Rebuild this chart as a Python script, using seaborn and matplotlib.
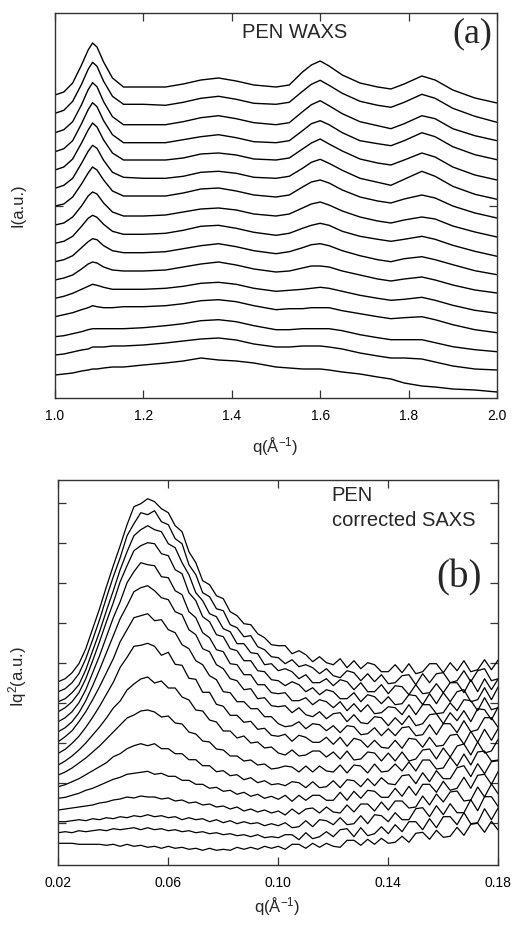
import matplotlib
matplotlib.use("Agg")
import matplotlib.pyplot as plt
import numpy as np
import pandas as pd
import seaborn as sns

# ---------------- (a) PEN WAXS ----------------
waxs_q = [1.00, 1.02, 1.04, 1.06, 1.075, 1.085, 1.095, 1.11, 1.13, 1.155, 1.20, 1.25,
          1.29, 1.33, 1.37, 1.41, 1.45, 1.50, 1.53, 1.56, 1.58, 1.60, 1.62, 1.65,
          1.69, 1.73, 1.76, 1.79, 1.83, 1.86, 1.90, 1.95, 2.00]
waxs_offset = [303.3, 285.0, 265.6, 246.6, 228.3, 210.0, 192.3, 173.3,
               155.0, 136.6, 118.3, 100.0, 81.6, 61.6, 43.3, 23.3]
waxs_1 = [0,3,12,30,45,52,48,33,17,8,8,8,11,15,17,14,10,8,10,23,30,34,29,20,12,8,6,11,19,15,5,-3,-8]
waxs_2 = [0,3,12,29,44,51,47,32,17,9,9,8,11,15,17,14,10,9,11,22,29,33,28,20,12,8,6,11,19,15,5,-3,-9]
waxs_3 = [0,3,11,28,43,50,46,31,16,8,8,8,11,15,17,14,10,8,10,21,28,32,27,19,11,7,4,9,17,14,4,-3,-8]
waxs_4 = [0,3,11,28,42,49,45,31,17,9,9,9,12,15,17,14,10,9,11,21,28,31,27,19,11,8,6,11,19,15,5,-3,-8]
waxs_5 = [0,3,11,27,40,47,43,30,17,10,10,10,12,16,17,15,11,10,12,21,27,31,26,19,11,7,5,10,17,13,3,-5,-10]
waxs_6 = [0,3,10,25,37,43,40,28,16,11,10,10,12,16,17,15,11,10,12,20,26,29,25,18,10,6,3,9,17,12,2,-6,-11]
waxs_7 = [0,2,9,22,33,39,36,26,15,10,10,10,13,17,18,15,11,9,11,19,24,26,23,16,9,5,3,7,11,8,0,-7,-12]
waxs_8 = [0,2,8,19,29,33,31,22,13,9,9,10,13,16,17,15,11,9,11,17,21,23,20,14,8,4,2,5,8,6,-1,-7,-12]
waxs_9 = [0,2,7,17,25,28,26,19,12,9,9,10,13,17,18,15,11,8,10,15,18,20,18,12,7,4,2,4,7,4,-2,-8,-13]
waxs_10 = [0,2,6,14,20,23,22,16,11,9,9,10,13,16,18,15,11,8,10,14,17,18,16,11,6,2,0,3,5,2,-3,-9,-13]
waxs_11 = [0,2,5,11,16,18,17,13,10,9,9,10,13,16,18,15,11,8,9,12,14,14,13,9,5,1,-1,1,3,0,-5,-10,-13]
waxs_12 = [0,2,5,9,12,14,13,11,9,9,9,10,12,15,16,14,10,7,8,9,10,11,10,7,3,0,-2,-1,1,-2,-7,-12,-15]
waxs_13 = [0,2,4,7,9,11,10,9,9,10,10,11,13,16,17,15,11,7,8,8,9,9,9,6,3,0,-2,-1,0,-3,-8,-13,-16]
waxs_14 = [0,1,3,5,7,8,8,8,8,8,9,11,13,16,17,15,11,7,7,8,8,8,8,6,2,-1,-3,-3,-3,-6,-10,-13,-15]
waxs_15 = [0,1,3,5,6,8,8,8,9,9,10,12,14,16,17,15,11,8,8,9,9,9,8,6,2,-1,-3,-3,-4,-7,-11,-14,-15]
waxs_16 = [0,1,2,4,5,6,6,7,8,8,10,12,14,17,15,14,12,8,7,6,6,6,5,3,1,-2,-4,-8,-11,-12,-14,-15,-17]
waxs_curves = [waxs_1, waxs_2, waxs_3, waxs_4, waxs_5, waxs_6, waxs_7, waxs_8,
               waxs_9, waxs_10, waxs_11, waxs_12, waxs_13, waxs_14, waxs_15, waxs_16]

# ---------------- (b) PEN corrected SAXS ----------------
saxs_q = [0.0200,0.0225,0.0250,0.0275,0.0300,0.0325,0.0350,0.0375,0.0400,0.0425,0.0450,
          0.0475,0.0500,0.0525,0.0550,0.0575,0.0600,0.0625,0.0650,0.0675,0.0700,0.0725,
          0.0750,0.0775,0.0800,0.0825,0.0850,0.0875,0.0900,0.0925,0.0950,0.0975,0.1000,
          0.1025,0.1050,0.1075,0.1100,0.1125,0.1150,0.1175,0.1200,0.1225,0.1250,0.1275,
          0.1300,0.1325,0.1350,0.1375,0.1400,0.1425,0.1450,0.1475,0.1500,0.1525,0.1550,
          0.1575,0.1600,0.1625,0.1650,0.1675,0.1700,0.1725,0.1750,0.1775,0.1800]
saxs_offset = [183.3, 173.3, 163.3, 153.3, 143.3, 133.3, 123.3, 111.7,
               100.0, 90.0, 78.3, 66.7, 55.0, 43.3, 32.3, 21.7]
saxs_1 = [0,3,9,18,33,53,73,95,116,136,157,175,178,183,180,173,169,156,150,130,119,101,97,86,83,70,66,58,57,48,44,37,36,
          36,28,31,27,20,25,19,17,23,14,21,13,19,17,10,10,17,9,18,8,10,18,18,9,19,11,21,10,12,22,12,22]
saxs_2 = [0,3,9,18,33,52,72,94,115,134,156,168,179,177,181,170,167,153,148,127,117,99,95,83,81,67,64,55,56,45,42,35,34,
          28,32,25,27,24,18,23,16,14,21,19,11,18,10,17,8,9,16,17,7,18,9,18,19,9,11,21,10,21,23,11,13]
saxs_3 = [0,3,9,17,32,51,70,91,111,132,150,166,172,176,172,170,158,154,139,127,109,101,88,85,73,70,58,58,49,48,37,38,31,
          33,30,23,27,19,19,23,16,22,20,12,19,10,10,17,8,16,15,7,17,8,9,18,9,19,19,9,22,10,23,12,23]
saxs_4 = [0,4,10,19,33,51,70,90,109,130,146,161,166,169,168,158,156,142,138,119,111,95,90,77,75,63,61,51,51,41,40,32,31,
          26,30,27,20,24,17,22,20,13,13,19,10,17,15,8,15,7,8,17,16,7,18,8,19,10,20,22,10,12,24,12,25]
saxs_5 = [0,4,10,19,32,49,66,85,104,120,139,150,159,157,156,145,144,131,127,110,104,89,84,72,70,58,57,47,47,37,37,29,28,
          29,21,21,24,17,22,20,14,20,11,18,10,17,8,9,15,14,7,17,7,17,17,8,9,19,11,22,21,11,24,12,14]
saxs_6 = [0,4,10,19,31,46,62,79,96,113,126,140,144,146,141,134,132,120,117,102,97,83,80,67,63,53,51,42,43,33,34,26,25,
          26,19,24,17,15,20,13,18,19,10,17,9,8,15,14,6,14,7,16,6,8,17,18,8,19,11,21,10,23,22,12,25]
saxs_7 = [0,5,11,20,30,42,55,69,83,100,112,124,126,128,121,122,112,109,97,93,81,77,66,62,50,49,40,40,33,33,25,25,18,
          15,16,20,13,18,17,11,16,9,16,15,7,8,14,6,13,6,14,15,6,7,17,7,18,18,9,21,10,12,24,24,14]
saxs_8 = [0,4,10,17,26,36,47,59,71,86,96,107,108,110,107,98,101,89,88,75,74,61,61,49,47,38,38,31,32,24,25,18,17,
          19,12,18,16,11,11,16,9,16,7,15,13,6,13,6,5,13,5,15,14,6,16,7,8,18,19,9,22,11,24,13,25]
saxs_9 = [0,4,9,15,22,30,38,47,57,64,75,81,86,88,82,84,77,77,68,65,55,54,45,43,34,34,27,29,22,23,17,18,12,
          10,15,9,10,14,14,8,13,6,14,5,6,13,12,4,12,4,13,4,6,15,16,6,17,8,19,21,10,23,12,14,26]
saxs_10 = [0,3,7,12,17,23,29,36,43,50,57,60,64,65,63,58,59,52,51,43,41,34,33,26,25,19,19,14,15,10,11,6,7,
           9,8,3,9,3,9,4,3,10,2,10,9,2,11,3,4,11,4,13,4,15,15,6,7,18,9,21,10,23,24,14,15]
saxs_11 = [0,2,5,8,12,16,20,24,30,33,38,41,43,41,43,38,38,33,33,27,27,21,21,15,16,11,12,7,9,4,6,2,3,
           1,5,4,-1,5,-1,0,6,-1,7,6,0,8,1,9,3,2,11,12,3,14,5,16,8,8,19,21,10,23,13,25,26]
saxs_12 = [0,1,3,5,8,10,13,16,19,21,24,25,26,27,24,25,22,22,18,18,14,14,10,11,7,8,4,6,2,4,0,2,-1,
           3,-3,3,-2,3,3,-2,-2,6,-2,7,0,8,7,1,1,10,2,12,3,14,14,6,17,8,10,21,10,23,24,14,27]
saxs_13 = [0,1,2,3,4,5,7,8,10,11,13,12,14,13,13,11,12,9,10,7,8,5,6,3,4,1,3,-1,1,-2,0,-3,-1,
           -5,1,-4,1,2,-3,3,-2,-3,5,-2,6,6,-1,8,0,9,9,2,3,14,5,16,8,18,19,9,10,23,13,26,16]
saxs_14 = [0,0,1,2,1,3,2,4,3,5,4,6,5,7,5,6,4,5,2,4,2,3,0,2,-1,1,-2,0,-2,-1,-4,-2,-4,
           -1,-6,-5,1,-5,2,1,-3,4,-3,-2,6,-2,7,6,0,9,2,2,13,14,5,16,7,18,9,9,22,11,25,25,15]
saxs_15 = [0,1,0,2,1,2,3,2,4,3,4,5,3,5,3,4,2,3,1,2,0,1,-1,0,-2,-1,-3,-2,-4,-2,-5,-4,-5,
           -2,-2,-7,0,-6,-4,1,-4,3,4,-4,5,-3,-1,6,-1,8,1,11,11,3,14,5,16,16,8,20,9,10,24,13,25]
saxs_16 = [0,0,0,-1,-1,-1,-1,-2,-1,-3,-1,-3,-2,-4,-3,-5,-3,-5,-4,-6,-5,-7,-5,-7,-6,-7,-4,-6,-4,-6,-3,-5,-3,
           -6,-1,-1,-5,0,-4,0,-3,-4,3,3,-2,4,-1,5,0,1,7,1,10,11,4,13,6,7,16,8,19,20,11,22,13]
saxs_curves = [saxs_1, saxs_2, saxs_3, saxs_4, saxs_5, saxs_6, saxs_7, saxs_8,
               saxs_9, saxs_10, saxs_11, saxs_12, saxs_13, saxs_14, saxs_15, saxs_16]

waxs_xticks = [1.0, 1.2, 1.4, 1.6, 1.8, 2.0]
waxs_xticklabels = ["1.0", "1.2", "1.4", "1.6", "1.8", "2.0"]
saxs_xticks = [0.02, 0.06, 0.10, 0.14, 0.18]
saxs_xticklabels = ["0.02", "0.06", "0.10", "0.14", "0.18"]


def stack(qs, curves, offsets):
    rows = []
    for k, (c, off) in enumerate(zip(curves, offsets)):
        for q, v in zip(qs, c):
            rows.append({"q": q, "I": off + v, "curve": k})
    return pd.DataFrame(rows)


df_w = stack(waxs_q, waxs_curves, waxs_offset)
df_s = stack(saxs_q, saxs_curves, saxs_offset)

sns.set_theme(style="white")
plt.rcParams["font.family"] = ["Liberation Sans", "DejaVu Sans"]
plt.rcParams["mathtext.fontset"] = "custom"
plt.rcParams["mathtext.rm"] = "Liberation Sans"
plt.rcParams["mathtext.default"] = "regular"

W, H = 514, 927
fig = plt.figure(figsize=(W / 100, H / 100), dpi=100)
fig.patch.set_facecolor("white")

ax1 = fig.add_axes([55 / W, (H - 398.3) / H, 442 / W, 385 / H])
ax2 = fig.add_axes([58.3 / W, (H - 865) / H, 440 / W, 385 / H])

sns.lineplot(data=df_w, x="q", y="I", units="curve", estimator=None,
             color="black", lw=1.0, ax=ax1, legend=False)
sns.lineplot(data=df_s, x="q", y="I", units="curve", estimator=None,
             color="black", lw=0.9, ax=ax2, legend=False)

ax1.set_xlim(1.0, 2.0)
ax1.set_ylim(0, 385)
ax2.set_xlim(0.02, 0.18)
ax2.set_ylim(0, 385)

for ax in (ax1, ax2):
    ax.set_xlabel("")
    ax.set_ylabel("")
    ax.set_facecolor("white")
    for sp in ax.spines.values():
        sp.set_color("#333333")
        sp.set_linewidth(1.0)
        sp.set_visible(True)
    ax.tick_params(direction="in", bottom=True, left=True, top=True, right=True,
                   length=6, width=0.9, colors="#333333", labelcolor="black",
                   labelsize=10, pad=8)

ax1.set_xticks(waxs_xticks)
ax1.set_xticklabels(waxs_xticklabels)
ax1.set_yticks([192.3])
ax1.set_yticklabels([])

ax2.set_xticks(saxs_xticks)
ax2.set_xticklabels(saxs_xticklabels)
ax2.set_yticks([41.7 + 40 * k for k in range(9)])
ax2.set_yticklabels([])

ax1.text(0.543, 0.949, "PEN WAXS", transform=ax1.transAxes, ha="center",
         va="center", fontsize=14.5)
ax1.text(0.989, 0.946, "(a)", transform=ax1.transAxes, ha="right",
         va="center", fontsize=26, family="Liberation Serif")
ax2.text(0.621, 0.961, "PEN", transform=ax2.transAxes, ha="left",
         va="center", fontsize=14.5)
ax2.text(0.621, 0.896, "corrected SAXS", transform=ax2.transAxes, ha="left",
         va="center", fontsize=14.5)
ax2.text(0.963, 0.745, "(b)", transform=ax2.transAxes, ha="right",
         va="center", fontsize=28, family="Liberation Serif")

fig.text(18 / W, (H - 205) / H, "I(a.u.)", rotation=90, ha="center",
         va="center", fontsize=12)
fig.text(275 / W, (H - 447) / H, r"q(Å$^{-1}$)", ha="center", va="center",
         fontsize=12)
fig.text(18 / W, (H - 677) / H, r"Iq$^{2}$(a.u.)", rotation=90, ha="center",
         va="center", fontsize=12)
fig.text(277 / W, (H - 907) / H, r"q(Å$^{-1}$)", ha="center", va="center",
         fontsize=12)

fig.savefig("out.png", dpi=100, facecolor="white")
